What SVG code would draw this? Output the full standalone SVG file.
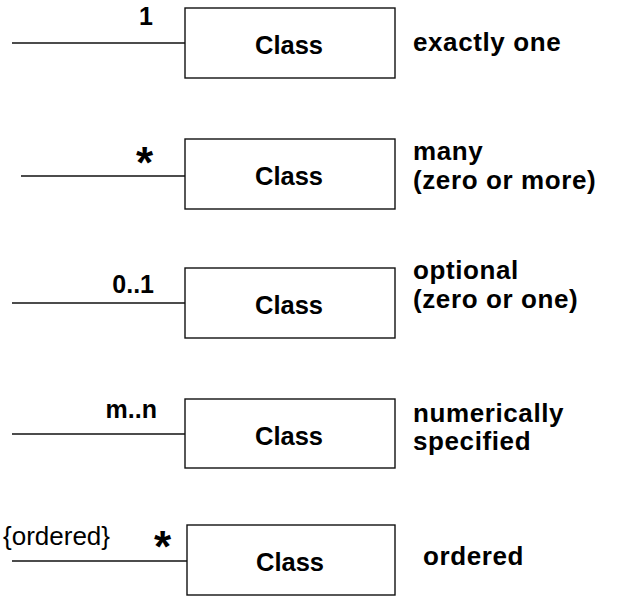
<svg xmlns="http://www.w3.org/2000/svg" width="617" height="596" viewBox="0 0 617 596">
<style>
.box{fill:#fff;stroke:#111;stroke-width:1.4}
.ln{stroke:#111;stroke-width:1.4;fill:none}
.cls{font-family:"Liberation Sans",Arial,sans-serif;font-weight:bold;font-size:25.5px;fill:#000;text-anchor:middle}
.lbl{font-family:"Liberation Sans",Arial,sans-serif;font-weight:bold;font-size:26px;fill:#000;letter-spacing:0.6px}
.mul{font-family:"Liberation Sans",Arial,sans-serif;font-weight:bold;font-size:25px;fill:#000;text-anchor:end}
.star{font-family:"Liberation Sans",Arial,sans-serif;font-weight:bold;font-size:44px;fill:#000}
.con{font-family:"Liberation Sans",Arial,sans-serif;font-size:26px;fill:#000}
</style>
<rect width="617" height="596" fill="#fff"/>
<g id="connectors">
<line class="ln" x1="12" y1="43" x2="185" y2="43"/>
<line class="ln" x1="21" y1="176" x2="185" y2="176"/>
<line class="ln" x1="12" y1="303" x2="185" y2="303"/>
<line class="ln" x1="12" y1="434" x2="185" y2="434"/>
<line class="ln" x1="12" y1="561" x2="187" y2="561"/>
<text class="mul" x="153" y="25">1</text>
<text class="star" x="136" y="178">*</text>
<text class="mul" x="154" y="293">0..1</text>
<text class="mul" x="157" y="418">m..n</text>
<text class="con" x="3" y="545">{ordered}</text>
<text class="star" x="154" y="562">*</text>
</g>
<g id="node1">
<rect class="box" x="185" y="8" width="210" height="70"/>
<text class="cls" x="289" y="54">Class</text>
<text class="lbl" x="413" y="51">exactly one</text>
</g>
<g id="node2">
<rect class="box" x="185" y="139" width="210" height="70"/>
<text class="cls" x="289" y="185">Class</text>
<text class="lbl" x="413" y="160">many</text>
<text class="lbl" x="413" y="189">(zero or more)</text>
</g>
<g id="node3">
<rect class="box" x="185" y="268" width="210" height="70"/>
<text class="cls" x="289" y="314">Class</text>
<text class="lbl" x="413" y="279">optional</text>
<text class="lbl" x="413" y="308">(zero or one)</text>
</g>
<g id="node4">
<rect class="box" x="185" y="399" width="210" height="69"/>
<text class="cls" x="289" y="445">Class</text>
<text class="lbl" x="413" y="422">numerically</text>
<text class="lbl" x="413" y="450">specified</text>
</g>
<g id="node5">
<rect class="box" x="187" y="525" width="208" height="70"/>
<text class="cls" x="290" y="571">Class</text>
<text class="lbl" x="423" y="565">ordered</text>
</g>
</svg>
